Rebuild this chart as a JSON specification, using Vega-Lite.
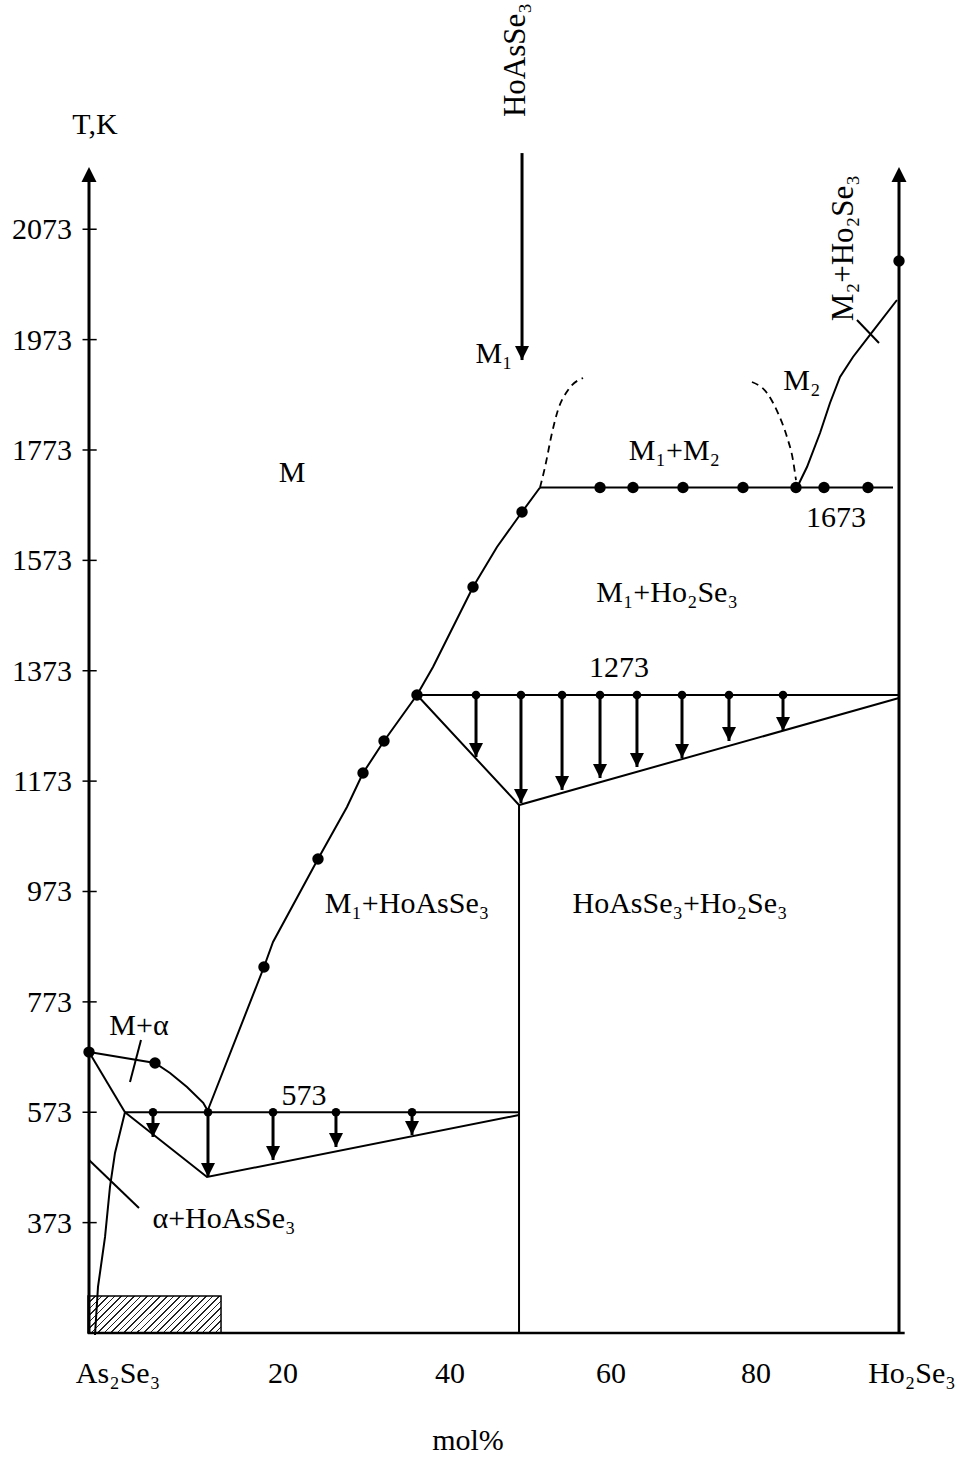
{
  "$schema": "https://vega.github.io/schema/vega-lite/v6.json",
  "width": 810,
  "height": 1168,
  "autosize": {"type": "none"},
  "padding": {"left": 89, "top": 165, "right": 66, "bottom": 132},
  "background": "white",
  "config": {"view": {"stroke": null}, "font": "Liberation Serif"},
  "datasets": {
    "lines": [
      {"s": "solid", "g": "liq1", "o": 1, "x": 14.57, "T": 573},
      {"s": "solid", "g": "liq1", "o": 2, "x": 21.6, "T": 836.2},
      {"s": "solid", "g": "liq1", "o": 3, "x": 22.72, "T": 881.5},
      {"s": "solid", "g": "liq1", "o": 4, "x": 28.27, "T": 1031.9},
      {"s": "solid", "g": "liq1", "o": 5, "x": 31.85, "T": 1126.1},
      {"s": "solid", "g": "liq1", "o": 6, "x": 33.83, "T": 1187.7},
      {"s": "solid", "g": "liq1", "o": 7, "x": 36.42, "T": 1245.7},
      {"s": "solid", "g": "liq1", "o": 8, "x": 40.49, "T": 1329},
      {"s": "solid", "g": "liq1", "o": 9, "x": 42.47, "T": 1379.8},
      {"s": "solid", "g": "liq1", "o": 10, "x": 47.41, "T": 1524.8},
      {"s": "solid", "g": "liq1", "o": 11, "x": 50.37, "T": 1597.2},
      {"s": "solid", "g": "liq1", "o": 12, "x": 53.46, "T": 1660.7},
      {"s": "solid", "g": "liq1", "o": 13, "x": 55.68, "T": 1705},
      {"s": "solid", "g": "l1673", "o": 1, "x": 55.68, "T": 1705},
      {"s": "solid", "g": "l1673", "o": 2, "x": 99.26, "T": 1705},
      {"s": "solid", "g": "liq2", "o": 1, "x": 87.41, "T": 1705},
      {"s": "solid", "g": "liq2", "o": 2, "x": 88.64, "T": 1742.2},
      {"s": "solid", "g": "liq2", "o": 3, "x": 90.25, "T": 1803.8},
      {"s": "solid", "g": "liq2", "o": 4, "x": 91.48, "T": 1858.2},
      {"s": "solid", "g": "liq2", "o": 5, "x": 92.72, "T": 1905.3},
      {"s": "solid", "g": "liq2", "o": 6, "x": 94.32, "T": 1941.5},
      {"s": "solid", "g": "liq2", "o": 7, "x": 96.42, "T": 1981.4},
      {"s": "solid", "g": "liq2", "o": 8, "x": 99.75, "T": 2044.8},
      {"s": "solid", "g": "xmark", "o": 1, "x": 94.81, "T": 2008.6},
      {"s": "solid", "g": "xmark", "o": 2, "x": 97.53, "T": 1966.9},
      {"s": "solid", "g": "l1273", "o": 1, "x": 40.49, "T": 1329},
      {"s": "solid", "g": "l1273", "o": 2, "x": 100, "T": 1329},
      {"s": "solid", "g": "tri1273", "o": 1, "x": 40.49, "T": 1329},
      {"s": "solid", "g": "tri1273", "o": 2, "x": 53.09, "T": 1129.7},
      {"s": "solid", "g": "tri1273", "o": 3, "x": 100, "T": 1323.6},
      {"s": "solid", "g": "compound", "o": 1, "x": 53.09, "T": 1129.7},
      {"s": "solid", "g": "compound", "o": 2, "x": 53.09, "T": 173},
      {"s": "solid", "g": "l573", "o": 1, "x": 4.44, "T": 573},
      {"s": "solid", "g": "l573", "o": 2, "x": 53.09, "T": 573},
      {"s": "solid", "g": "tri573", "o": 1, "x": 4.44, "T": 573},
      {"s": "solid", "g": "tri573", "o": 2, "x": 14.57, "T": 455.7},
      {"s": "solid", "g": "tri573", "o": 3, "x": 53.09, "T": 568},
      {"s": "solid", "g": "solA", "o": 1, "x": 0, "T": 682},
      {"s": "solid", "g": "solA", "o": 2, "x": 4.44, "T": 573},
      {"s": "solid", "g": "liqA", "o": 1, "x": 0, "T": 682},
      {"s": "solid", "g": "liqA", "o": 2, "x": 8.15, "T": 662.2},
      {"s": "solid", "g": "liqA", "o": 3, "x": 10, "T": 644.1},
      {"s": "solid", "g": "liqA", "o": 4, "x": 12.1, "T": 618.8},
      {"s": "solid", "g": "liqA", "o": 5, "x": 14.1, "T": 590},
      {"s": "solid", "g": "liqA", "o": 6, "x": 14.57, "T": 578},
      {"s": "solid", "g": "solvus", "o": 1, "x": 4.44, "T": 573},
      {"s": "solid", "g": "solvus", "o": 2, "x": 3.21, "T": 499.2},
      {"s": "solid", "g": "solvus", "o": 3, "x": 2.59, "T": 437.6},
      {"s": "solid", "g": "solvus", "o": 4, "x": 1.98, "T": 347},
      {"s": "solid", "g": "solvus", "o": 5, "x": 1.11, "T": 256.4},
      {"s": "solid", "g": "solvus", "o": 6, "x": 0.74, "T": 169.4},
      {"s": "solid", "g": "leadA", "o": 1, "x": 0, "T": 486.5},
      {"s": "solid", "g": "leadA", "o": 2, "x": 6.17, "T": 399.5},
      {"s": "solid", "g": "leadMa", "o": 1, "x": 6.42, "T": 704},
      {"s": "solid", "g": "leadMa", "o": 2, "x": 5.06, "T": 627.8},
      {"s": "dash", "g": "d1", "o": 1, "x": 55.68, "T": 1705},
      {"s": "dash", "g": "d1", "o": 2, "x": 56.3, "T": 1742.2},
      {"s": "dash", "g": "d1", "o": 3, "x": 57.16, "T": 1803.8},
      {"s": "dash", "g": "d1", "o": 4, "x": 57.9, "T": 1845.5},
      {"s": "dash", "g": "d1", "o": 5, "x": 59.14, "T": 1881.7},
      {"s": "dash", "g": "d1", "o": 6, "x": 60.99, "T": 1903.5},
      {"s": "dash", "g": "d2", "o": 1, "x": 81.85, "T": 1896.2},
      {"s": "dash", "g": "d2", "o": 2, "x": 83.7, "T": 1876.3},
      {"s": "dash", "g": "d2", "o": 3, "x": 85.06, "T": 1840},
      {"s": "dash", "g": "d2", "o": 4, "x": 86.17, "T": 1796.6},
      {"s": "dash", "g": "d2", "o": 5, "x": 86.91, "T": 1754.9},
      {"s": "dash", "g": "d2", "o": 6, "x": 87.28, "T": 1718.6}
    ],
    "arrows": [
      {"grp": "573", "x": 7.9, "T": 573, "T2": 528.2},
      {"grp": "573", "x": 14.69, "T": 573, "T2": 455.7},
      {"grp": "573", "x": 22.72, "T": 573, "T2": 486.5},
      {"grp": "573", "x": 30.49, "T": 573, "T2": 510},
      {"grp": "573", "x": 39.88, "T": 573, "T2": 531.8},
      {"grp": "1273", "x": 47.78, "T": 1329, "T2": 1216.7},
      {"grp": "1273", "x": 53.33, "T": 1329, "T2": 1133.4},
      {"grp": "1273", "x": 58.4, "T": 1329, "T2": 1157},
      {"grp": "1273", "x": 63.09, "T": 1329, "T2": 1178.7},
      {"grp": "1273", "x": 67.65, "T": 1329, "T2": 1198.6},
      {"grp": "1273", "x": 73.21, "T": 1329, "T2": 1214.9},
      {"grp": "1273", "x": 79.01, "T": 1329, "T2": 1245.7},
      {"grp": "1273", "x": 85.68, "T": 1329, "T2": 1263.8},
      {"grp": "top", "x": 53.46, "T": 2311, "T2": 1936}
    ],
    "pts": [
      {"x": 0, "T": 682}, {"x": 8.15, "T": 662.2}, {"x": 21.6, "T": 836.2},
      {"x": 28.27, "T": 1031.9}, {"x": 33.83, "T": 1187.7}, {"x": 36.42, "T": 1245.7},
      {"x": 40.49, "T": 1329}, {"x": 47.41, "T": 1524.8}, {"x": 53.46, "T": 1660.7},
      {"x": 63.09, "T": 1705}, {"x": 67.16, "T": 1705}, {"x": 73.33, "T": 1705},
      {"x": 80.74, "T": 1705}, {"x": 87.28, "T": 1705}, {"x": 90.74, "T": 1705},
      {"x": 96.17, "T": 1705}, {"x": 100, "T": 2115.5}
    ],
    "yt": [
      {"T": 373, "lab": "373"}, {"T": 573, "lab": "573"}, {"T": 773, "lab": "773"},
      {"T": 973, "lab": "973"}, {"T": 1173, "lab": "1173"}, {"T": 1373, "lab": "1373"},
      {"T": 1573, "lab": "1573"}, {"T": 1773, "lab": "1773"}, {"T": 1973, "lab": "1973"},
      {"T": 2173, "lab": "2073"}
    ],
    "ax": [{"x": 0}, {"x": 100}],
    "base": [{"T": 173}],
    "hatch": [{"x": -0.12, "x2": 16.3, "T": 173, "T2": 240}],
    "lab": [
      {"r": "h", "t": "T,K", "x": 0.74, "T": 2345.6},
      {"r": "h", "t": "M₁", "x": 50.0, "T": 1930.6},
      {"r": "h", "t": "M₂", "x": 88.0, "T": 1881.7},
      {"r": "h", "t": "M₁+M₂", "x": 72.28, "T": 1754.9},
      {"r": "h", "t": "1673", "x": 92.22, "T": 1633.5},
      {"r": "h", "t": "M", "x": 25.06, "T": 1715},
      {"r": "h", "t": "M₁+Ho₂Se₃", "x": 71.36, "T": 1497.6},
      {"r": "h", "t": "1273", "x": 65.43, "T": 1361.7},
      {"r": "h", "t": "M₁+HoAsSe₃", "x": 39.26, "T": 934},
      {"r": "h", "t": "HoAsSe₃+Ho₂Se₃", "x": 72.96, "T": 934},
      {"r": "h", "t": "573", "x": 26.54, "T": 586},
      {"r": "h", "t": "α+HoAsSe₃", "x": 16.67, "T": 363.3},
      {"r": "h", "t": "M+α", "x": 6.17, "T": 713},
      {"r": "h", "t": "As₂Se₃", "x": 3.58, "T": 82.4},
      {"r": "h", "t": "20", "x": 23.95, "T": 82.4},
      {"r": "h", "t": "40", "x": 44.57, "T": 82.4},
      {"r": "h", "t": "60", "x": 64.44, "T": 82.4},
      {"r": "h", "t": "80", "x": 82.35, "T": 82.4},
      {"r": "h", "t": "Ho₂Se₃", "x": 101.6, "T": 82.4},
      {"r": "h", "t": "mol%", "x": 46.79, "T": -39},
      {"r": "v", "t": "HoAsSe₃", "x": 53.83, "T": 2479.7},
      {"r": "v", "t": "M₂+Ho₂Se₃", "x": 94.32, "T": 2139}
    ]
  },
  "layer": [
    {
      "data": {"name": "hatch"},
      "mark": {
        "type": "rect", "stroke": "black", "strokeWidth": 1.5,
        "fill": {
          "gradient": "linear", "x1": 0, "y1": 0, "x2": 1.186, "y2": 0.33,
          "stops": [
            {"offset": 0, "color": "#222"}, {"offset": 0.009, "color": "#222"}, {"offset": 0.009, "color": "white"}, {"offset": 0.0385, "color": "white"},
            {"offset": 0.0385, "color": "#222"}, {"offset": 0.0475, "color": "#222"}, {"offset": 0.0475, "color": "white"}, {"offset": 0.0769, "color": "white"},
            {"offset": 0.0769, "color": "#222"}, {"offset": 0.0859, "color": "#222"}, {"offset": 0.0859, "color": "white"}, {"offset": 0.1154, "color": "white"},
            {"offset": 0.1154, "color": "#222"}, {"offset": 0.1244, "color": "#222"}, {"offset": 0.1244, "color": "white"}, {"offset": 0.1538, "color": "white"},
            {"offset": 0.1538, "color": "#222"}, {"offset": 0.1628, "color": "#222"}, {"offset": 0.1628, "color": "white"}, {"offset": 0.1923, "color": "white"},
            {"offset": 0.1923, "color": "#222"}, {"offset": 0.2013, "color": "#222"}, {"offset": 0.2013, "color": "white"}, {"offset": 0.2308, "color": "white"},
            {"offset": 0.2308, "color": "#222"}, {"offset": 0.2398, "color": "#222"}, {"offset": 0.2398, "color": "white"}, {"offset": 0.2692, "color": "white"},
            {"offset": 0.2692, "color": "#222"}, {"offset": 0.2782, "color": "#222"}, {"offset": 0.2782, "color": "white"}, {"offset": 0.3077, "color": "white"},
            {"offset": 0.3077, "color": "#222"}, {"offset": 0.3167, "color": "#222"}, {"offset": 0.3167, "color": "white"}, {"offset": 0.3462, "color": "white"},
            {"offset": 0.3462, "color": "#222"}, {"offset": 0.3552, "color": "#222"}, {"offset": 0.3552, "color": "white"}, {"offset": 0.3846, "color": "white"},
            {"offset": 0.3846, "color": "#222"}, {"offset": 0.3936, "color": "#222"}, {"offset": 0.3936, "color": "white"}, {"offset": 0.4231, "color": "white"},
            {"offset": 0.4231, "color": "#222"}, {"offset": 0.4321, "color": "#222"}, {"offset": 0.4321, "color": "white"}, {"offset": 0.4615, "color": "white"},
            {"offset": 0.4615, "color": "#222"}, {"offset": 0.4705, "color": "#222"}, {"offset": 0.4705, "color": "white"}, {"offset": 0.5, "color": "white"},
            {"offset": 0.5, "color": "#222"}, {"offset": 0.509, "color": "#222"}, {"offset": 0.509, "color": "white"}, {"offset": 0.5385, "color": "white"},
            {"offset": 0.5385, "color": "#222"}, {"offset": 0.5475, "color": "#222"}, {"offset": 0.5475, "color": "white"}, {"offset": 0.5769, "color": "white"},
            {"offset": 0.5769, "color": "#222"}, {"offset": 0.5859, "color": "#222"}, {"offset": 0.5859, "color": "white"}, {"offset": 0.6154, "color": "white"},
            {"offset": 0.6154, "color": "#222"}, {"offset": 0.6244, "color": "#222"}, {"offset": 0.6244, "color": "white"}, {"offset": 0.6538, "color": "white"},
            {"offset": 0.6538, "color": "#222"}, {"offset": 0.6628, "color": "#222"}, {"offset": 0.6628, "color": "white"}, {"offset": 0.6923, "color": "white"},
            {"offset": 0.6923, "color": "#222"}, {"offset": 0.7013, "color": "#222"}, {"offset": 0.7013, "color": "white"}, {"offset": 0.7308, "color": "white"},
            {"offset": 0.7308, "color": "#222"}, {"offset": 0.7398, "color": "#222"}, {"offset": 0.7398, "color": "white"}, {"offset": 0.7692, "color": "white"},
            {"offset": 0.7692, "color": "#222"}, {"offset": 0.7782, "color": "#222"}, {"offset": 0.7782, "color": "white"}, {"offset": 0.8077, "color": "white"},
            {"offset": 0.8077, "color": "#222"}, {"offset": 0.8167, "color": "#222"}, {"offset": 0.8167, "color": "white"}, {"offset": 0.8462, "color": "white"},
            {"offset": 0.8462, "color": "#222"}, {"offset": 0.8552, "color": "#222"}, {"offset": 0.8552, "color": "white"}, {"offset": 0.8846, "color": "white"},
            {"offset": 0.8846, "color": "#222"}, {"offset": 0.8936, "color": "#222"}, {"offset": 0.8936, "color": "white"}, {"offset": 0.9231, "color": "white"},
            {"offset": 0.9231, "color": "#222"}, {"offset": 0.9321, "color": "#222"}, {"offset": 0.9321, "color": "white"}, {"offset": 0.9615, "color": "white"},
            {"offset": 0.9615, "color": "#222"}, {"offset": 0.9705, "color": "#222"}, {"offset": 0.9705, "color": "white"}, {"offset": 1, "color": "white"}
          ]
        }
      },
      "encoding": {
        "x": {"field": "x", "type": "quantitative", "scale": {"domain": [0, 100], "nice": false, "zero": false}, "axis": null},
        "x2": {"field": "x2"},
        "y": {"field": "T", "type": "quantitative", "scale": {"domain": [173, 2289.4], "nice": false, "zero": false}, "axis": null},
        "y2": {"field": "T2"}
      }
    },
    {
      "data": {"name": "lines"},
      "transform": [{"filter": "datum.s == 'solid'"}],
      "mark": {"type": "line", "color": "black", "strokeWidth": 2, "interpolate": "linear"},
      "encoding": {
        "x": {"field": "x", "type": "quantitative", "scale": {"domain": [0, 100], "nice": false, "zero": false}, "axis": null},
        "y": {"field": "T", "type": "quantitative", "scale": {"domain": [173, 2289.4], "nice": false, "zero": false}, "axis": null},
        "detail": {"field": "g"},
        "order": {"field": "o", "type": "quantitative"}
      }
    },
    {
      "data": {"name": "lines"},
      "transform": [{"filter": "datum.s == 'dash'"}],
      "mark": {"type": "line", "color": "black", "strokeWidth": 1.8, "strokeDash": [7, 5], "interpolate": "monotone"},
      "encoding": {
        "x": {"field": "x", "type": "quantitative", "scale": {"domain": [0, 100], "nice": false, "zero": false}, "axis": null},
        "y": {"field": "T", "type": "quantitative", "scale": {"domain": [173, 2289.4], "nice": false, "zero": false}, "axis": null},
        "detail": {"field": "g"},
        "order": {"field": "o", "type": "quantitative"}
      }
    },
    {
      "data": {"name": "yt"},
      "mark": {"type": "rule", "color": "black", "strokeWidth": 1.5},
      "encoding": {
        "x": {"datum": -0.8, "type": "quantitative", "scale": {"domain": [0, 100], "nice": false, "zero": false}, "axis": null},
        "x2": {"datum": 0.95},
        "y": {"field": "T", "type": "quantitative", "scale": {"domain": [173, 2289.4], "nice": false, "zero": false}, "axis": null}
      }
    },
    {
      "data": {"name": "yt"},
      "mark": {"type": "text", "font": "Liberation Serif", "fontSize": 30, "align": "right", "baseline": "alphabetic", "dy": 10, "color": "black"},
      "encoding": {
        "x": {"datum": -2.1, "type": "quantitative", "scale": {"domain": [0, 100], "nice": false, "zero": false}, "axis": null},
        "y": {"field": "T", "type": "quantitative", "scale": {"domain": [173, 2289.4], "nice": false, "zero": false}, "axis": null},
        "text": {"field": "lab"}
      }
    },
    {
      "data": {"name": "base"},
      "mark": {"type": "rule", "color": "black", "strokeWidth": 2.5},
      "encoding": {
        "x": {"datum": -0.15, "type": "quantitative", "scale": {"domain": [0, 100], "nice": false, "zero": false}, "axis": null},
        "x2": {"datum": 100.7},
        "y": {"field": "T", "type": "quantitative", "scale": {"domain": [173, 2289.4], "nice": false, "zero": false}, "axis": null}
      }
    },
    {
      "data": {"name": "ax"},
      "mark": {"type": "rule", "color": "black", "strokeWidth": 3},
      "encoding": {
        "x": {"field": "x", "type": "quantitative", "scale": {"domain": [0, 100], "nice": false, "zero": false}, "axis": null},
        "y": {"datum": 173, "type": "quantitative", "scale": {"domain": [173, 2289.4], "nice": false, "zero": false}, "axis": null},
        "y2": {"datum": 2259}
      }
    },
    {
      "data": {"name": "ax"},
      "mark": {"type": "point", "shape": "M-1,2L1,2L0,0Z", "size": 225, "filled": true, "color": "black", "opacity": 1, "strokeWidth": 0},
      "encoding": {
        "x": {"field": "x", "type": "quantitative", "scale": {"domain": [0, 100], "nice": false, "zero": false}, "axis": null},
        "y": {"datum": 2286, "type": "quantitative", "scale": {"domain": [173, 2289.4], "nice": false, "zero": false}, "axis": null}
      }
    },
    {
      "data": {"name": "arrows"},
      "mark": {"type": "rule", "color": "black", "strokeWidth": 3},
      "encoding": {
        "x": {"field": "x", "type": "quantitative", "scale": {"domain": [0, 100], "nice": false, "zero": false}, "axis": null},
        "y": {"field": "T", "type": "quantitative", "scale": {"domain": [173, 2289.4], "nice": false, "zero": false}, "axis": null},
        "y2": {"field": "T2"}
      }
    },
    {
      "data": {"name": "arrows"},
      "mark": {"type": "point", "shape": "M-1,-2L1,-2L0,0Z", "size": 196, "filled": true, "color": "black", "opacity": 1, "strokeWidth": 0},
      "encoding": {
        "x": {"field": "x", "type": "quantitative", "scale": {"domain": [0, 100], "nice": false, "zero": false}, "axis": null},
        "y": {"field": "T2", "type": "quantitative", "scale": {"domain": [173, 2289.4], "nice": false, "zero": false}, "axis": null}
      }
    },
    {
      "data": {"name": "arrows"},
      "transform": [{"filter": "datum.grp != 'top'"}],
      "mark": {"type": "circle", "size": 75, "color": "black", "opacity": 1},
      "encoding": {
        "x": {"field": "x", "type": "quantitative", "scale": {"domain": [0, 100], "nice": false, "zero": false}, "axis": null},
        "y": {"field": "T", "type": "quantitative", "scale": {"domain": [173, 2289.4], "nice": false, "zero": false}, "axis": null}
      }
    },
    {
      "data": {"name": "pts"},
      "mark": {"type": "circle", "size": 130, "color": "black", "opacity": 1},
      "encoding": {
        "x": {"field": "x", "type": "quantitative", "scale": {"domain": [0, 100], "nice": false, "zero": false}, "axis": null},
        "y": {"field": "T", "type": "quantitative", "scale": {"domain": [173, 2289.4], "nice": false, "zero": false}, "axis": null}
      }
    },
    {
      "data": {"name": "lab"},
      "transform": [{"filter": "datum.r == 'h'"}],
      "mark": {"type": "text", "font": "Liberation Serif", "fontSize": 30, "align": "center", "baseline": "alphabetic", "color": "black"},
      "encoding": {
        "x": {"field": "x", "type": "quantitative", "scale": {"domain": [0, 100], "nice": false, "zero": false}, "axis": null},
        "y": {"field": "T", "type": "quantitative", "scale": {"domain": [173, 2289.4], "nice": false, "zero": false}, "axis": null},
        "text": {"field": "t"}
      }
    },
    {
      "data": {"name": "lab"},
      "transform": [{"filter": "datum.r == 'v'"}],
      "mark": {"type": "text", "font": "Liberation Serif", "fontSize": 31, "align": "center", "baseline": "alphabetic", "angle": 270, "color": "black"},
      "encoding": {
        "x": {"field": "x", "type": "quantitative", "scale": {"domain": [0, 100], "nice": false, "zero": false}, "axis": null},
        "y": {"field": "T", "type": "quantitative", "scale": {"domain": [173, 2289.4], "nice": false, "zero": false}, "axis": null},
        "text": {"field": "t"}
      }
    }
  ]
}
